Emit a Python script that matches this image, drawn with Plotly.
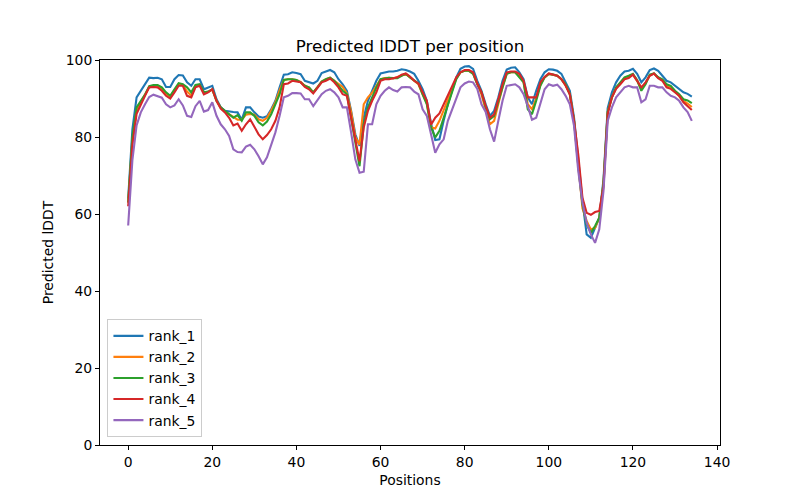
import plotly.graph_objects as go

positions = list(range(135))

rank_1 = [64, 82, 90.3, 92, 93.7, 95.4, 95.3, 95.4, 95, 93, 93, 95, 96.1, 96, 94.2, 93.3, 95, 95, 92.4, 92.9,
          93.3, 89.8, 87.7, 86.8, 86.6, 86.5, 86.4, 84.5, 87.7, 87.7, 86.4, 85.3, 85, 85.4, 87.2, 89.4, 92.9, 96.2, 96.3, 96.8,
          96.6, 96.3, 94.6, 94.2, 93.9, 94.6, 96.6, 97, 97.4, 96.8, 95, 93.7, 92, 86.8, 80.7, 77.7, 85, 89.4, 92, 94.6,
          96.5, 96.8, 97, 97, 97.2, 97.6, 97.4, 97, 96.4, 94.6, 92.4, 89.4, 83.5, 79.2, 79.4, 84.2, 88.5, 92, 95.5, 97.7,
          98.3, 98.4, 97.7, 94.6, 92, 88.5, 85.5, 86.8, 90.3, 94.6, 97.5, 98, 98.1, 96.8, 95, 90.3, 88.5, 92, 95, 96.8,
          97.6, 97.5, 97.2, 96.4, 94.2, 92, 85, 73.8, 63.4, 54.7, 53.8, 56.4, 59, 69, 87.5, 91.6, 94.2, 95.9, 97, 97.2,
          97.7, 96.4, 94.2, 95.5, 97.4, 97.8, 97.2, 95.9, 94.6, 94.2, 93.3, 92.4, 91.6, 91.2, 90.5]

rank_2 = [63, 79, 87, 89, 91, 93, 93.3, 93.3, 92.6, 91.2, 90.5, 92.2, 93.8, 93.5, 91.8, 90.8, 93.3, 93.5, 91.4, 91.7,
          92.3, 89.4, 87.6, 86.6, 85.8, 85.2, 84.5, 84.5, 85.8, 86, 85.8, 84.6, 84.2, 85, 86.9, 89, 92.2, 94.8, 95, 95,
          94.8, 94.3, 93.3, 92.8, 91.6, 92.9, 94.4, 95, 95.4, 94.6, 93.8, 93, 91.3, 86.5, 80, 78, 88.5, 90.3, 91.5, 93.3,
          95, 95.3, 95.4, 95.2, 95.5, 96, 96.4, 95.5, 94.5, 93.7, 91.1, 88.8, 82.5, 82.2, 84.2, 87, 90, 92.7, 95.2, 96.8,
          97.2, 97.2, 96.5, 93.8, 91, 87, 83.3, 84.2, 89, 93, 96.5, 96.8, 96.8, 95.7, 94.3, 88.5, 87.2, 90, 93.6, 95.5,
          96.4, 96.2, 95.9, 95, 93.5, 91.1, 84.2, 73, 61.5, 58.2, 56, 56.4, 59, 68, 86.5, 90.3, 92.7, 94, 95.3, 95.7,
          96.2, 94.6, 92.4, 94, 96, 96.5, 95.4, 94.8, 93.3, 93, 91.8, 90.8, 89.4, 88.7, 87.8]

rank_3 = [63, 80, 87.7, 89.4, 91, 93.2, 93.5, 93.5, 92.9, 91.6, 90.7, 92.4, 94, 93.7, 92.9, 91.6, 93.5, 93.7, 91.6, 91.8,
          92.4, 89.4, 87.7, 86.8, 86, 85, 85.7, 84.2, 86.4, 86.4, 85.5, 83.8, 83, 84, 85.9, 88.5, 91.1, 94.8, 95, 95,
          94.8, 94.2, 93.3, 92.9, 91.6, 92.9, 94.4, 95, 95.4, 94.6, 93.3, 92, 91.1, 85, 78.6, 72.4, 83.3, 87.7, 90.3, 92.9,
          95, 95.3, 95.4, 95.3, 95.3, 95.9, 96.4, 95.5, 94.6, 93.9, 91.1, 88.5, 82.5, 79.9, 81.6, 85, 88.5, 92, 95, 96.8,
          97.2, 97.2, 96.4, 93.7, 91.6, 87.7, 84.6, 85.5, 89.4, 92.9, 96.4, 96.8, 96.8, 95.5, 94.2, 87.2, 85.9, 89.4, 93.3, 95.5,
          96.4, 96.2, 95.9, 95, 93.6, 91.1, 84.2, 72.5, 62.5, 57.3, 55.1, 56.9, 59, 68, 86.5, 90.3, 92.9, 94.2, 95.5, 95.9,
          96.4, 94.8, 92, 93.7, 96.2, 96.5, 95.5, 95, 93.7, 93.3, 92, 91.1, 89.8, 89.5, 88.8]

rank_4 = [62, 78, 86, 88.5, 90.7, 92.9, 93, 92.9, 92, 90.7, 90, 91.6, 93.3, 93.3, 90.7, 90.3, 92.9, 93.3, 91.1, 91.6,
          92.4, 89.4, 87.4, 86.4, 85, 83, 83.5, 81.6, 83.3, 84.6, 82.5, 80.7, 79.4, 80.5, 82, 84.2, 87.7, 93.7, 93.9, 94.6,
          94.4, 94.2, 93, 92.4, 91.3, 92.9, 94.2, 94.6, 95.2, 94.2, 92.9, 91.1, 90.7, 85, 79, 73.7, 82.5, 86.8, 89.4, 91.6,
          94.6, 95, 95, 95.2, 95.5, 96.2, 96.5, 95.7, 94.6, 93.9, 91.6, 89.4, 83.2, 85, 86.1, 88.5, 91.1, 93.3, 95.5, 96.8,
          97.4, 97.4, 96.8, 93.9, 91.6, 88.1, 85, 85.9, 89.8, 93.7, 96.8, 97, 97, 96.4, 94.6, 90.3, 90.3, 90.3, 94.2, 95.6,
          96.5, 96.2, 95.9, 95, 93.3, 91.1, 84.2, 75.5, 64.2, 60.3, 59.8, 60.5, 60.8, 67, 86, 90.3, 92.5, 93.7, 95, 95.3,
          96.2, 94.6, 92.9, 94.2, 95.9, 96.5, 95.3, 94.6, 92.9, 92.5, 91.6, 90.7, 89, 88, 87]

rank_5 = [57, 74, 83, 86.4, 88.5, 90.4, 91, 90.5, 90.2, 88.5, 87.7, 88.2, 89.8, 88.2, 85.5, 85.2, 88, 89.4, 86.6, 87,
          89, 85.5, 83.3, 82, 80.3, 76.8, 76.1, 76, 77.5, 78, 76.8, 75, 72.9, 74.7, 77.7, 81.2, 85.5, 90.3, 90.7, 91.4,
          91.4, 91.3, 89.8, 89.8, 88, 89.4, 91.1, 92, 92.4, 91.6, 90.3, 87.7, 87.7, 81.2, 74.2, 70.7, 71, 83.3, 83.3, 88.5,
          90.7, 92, 92.9, 92.2, 91.8, 92.9, 93, 92.9, 91.8, 91.1, 87.2, 85.5, 80.7, 75.9, 78.1, 79.4, 84.2, 87.2, 90.3, 92.9,
          93.9, 94.4, 94.2, 92.5, 88.5, 86.5, 82, 78.8, 84.2, 89.4, 93.3, 93.6, 93.7, 92.9, 91.1, 88, 84.5, 85, 89, 92.4,
          93.7, 93.3, 93.6, 92.4, 90.7, 88.5, 82.9, 71.2, 63, 57.7, 54.7, 52.5, 56, 66, 84.2, 87.7, 90.3, 91.6, 92.9, 93.3,
          92.9, 92.9, 89, 89.8, 93.3, 93.3, 92.9, 92.9, 91.6, 90.7, 90.3, 89.4, 87.7, 86.5, 84.2]

series_names = ["rank_1", "rank_2", "rank_3", "rank_4", "rank_5"]
series_values = [rank_1, rank_2, rank_3, rank_4, rank_5]
colors = ["#1f77b4", "#ff7f0e", "#2ca02c", "#d62728", "#9467bd"]

x_ticks = [0, 20, 40, 60, 80, 100, 120, 140]
y_ticks = [0, 20, 40, 60, 80, 100]

fig = go.Figure()
for name, vals, col in zip(series_names, series_values, colors):
    fig.add_trace(go.Scatter(x=positions, y=vals, mode="lines", name=name,
                             line=dict(color=col, width=2.1)))

font_family = "DejaVu Sans"
fig.update_layout(
    width=800, height=500,
    margin=dict(l=100, r=80, t=60, b=55, pad=0),
    paper_bgcolor="white", plot_bgcolor="white",
    font=dict(family=font_family, size=13.9, color="black"),
    title=dict(text="Predicted lDDT per position", x=0.5, xref="paper", xanchor="center",
               y=1 - 46 / 500, yanchor="middle", yref="container",
               font=dict(size=16.7, color="black", family=font_family)),
    showlegend=True,
    legend=dict(x=0.012, y=0.02, xanchor="left", yanchor="bottom",
                bgcolor="rgba(255,255,255,0.8)", bordercolor="#cccccc", borderwidth=1,
                itemwidth=30,
                font=dict(size=13.9, family=font_family), tracegroupgap=0),
    xaxis=dict(range=[-6.7, 140.7], tickvals=x_ticks, ticktext=[str(t) for t in x_ticks],
               showgrid=False, zeroline=False, showline=True, linecolor="black", linewidth=1,
               mirror=True, ticks="outside", ticklen=4, tickwidth=1, tickcolor="black",
               title=dict(text="Positions", standoff=6, font=dict(size=13.9))),
    yaxis=dict(range=[0, 100], tickvals=y_ticks, ticktext=[str(t) for t in y_ticks],
               showgrid=False, zeroline=False, showline=True, linecolor="black", linewidth=1,
               mirror=True, ticks="outside", ticklen=4, tickwidth=1, tickcolor="black",
               title=dict(text="Predicted lDDT", standoff=8, font=dict(size=13.9))),
)

fig.write_html("out.html", config={"displayModeBar": False},
               post_script="document.body.style.margin='0px';")
